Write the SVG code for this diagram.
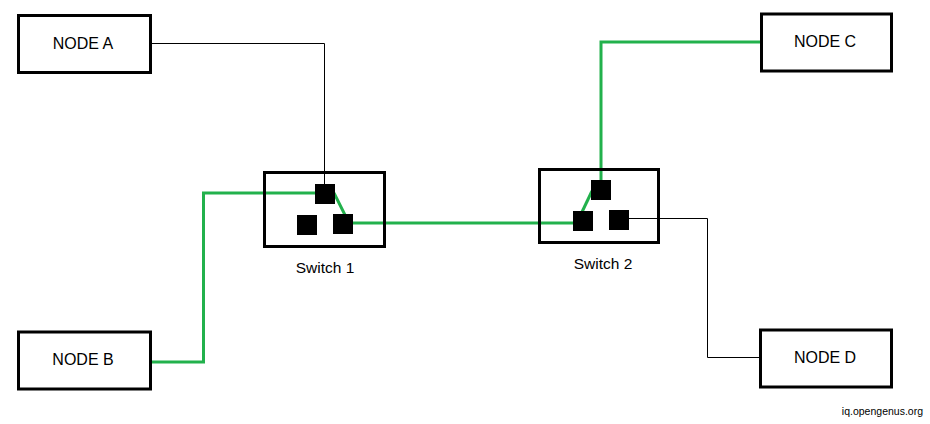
<svg xmlns="http://www.w3.org/2000/svg" width="930" height="424" viewBox="0 0 930 424">
<style>
.box{fill:#fff;stroke:#000;stroke-width:3}
.swbox{fill:none;stroke:#000;stroke-width:3}
.port{fill:#000}
.lbl{font-family:"Liberation Sans",Arial,sans-serif;font-size:16px;fill:#000;text-anchor:middle}
.sw{font-family:"Liberation Sans",Arial,sans-serif;font-size:15.5px;fill:#000;text-anchor:middle}
.g{fill:none;stroke:#22b14c;stroke-width:3}
.k{fill:none;stroke:#000;stroke-width:1}
</style>
<rect width="930" height="424" fill="#fff"/>
<g id="connectors">
<polyline class="k" points="151,43.5 324.5,43.5 324.5,184"/>
<polyline class="g" points="151,362 203.5,362 203.5,193 316,193"/>
<line class="g" x1="334" y1="193" x2="345" y2="215"/>
<line class="g" x1="352" y1="223" x2="574" y2="223"/>
<line class="g" x1="582" y1="212" x2="592" y2="191"/>
<polyline class="g" points="601,181 601,42 761,42"/>
<polyline class="k" points="628,218.5 707.5,218.5 707.5,357.5 760,357.5"/>
</g>
<g id="node-a">
<rect class="box" x="18.5" y="15.5" width="132" height="57"/>
<text class="lbl" x="83" y="49">NODE A</text>
</g>
<g id="node-b">
<rect class="box" x="18.5" y="332" width="132" height="57"/>
<text class="lbl" x="83" y="365">NODE B</text>
</g>
<g id="node-c">
<rect class="box" x="761.5" y="14" width="130" height="57"/>
<text class="lbl" x="825" y="47">NODE C</text>
</g>
<g id="node-d">
<rect class="box" x="760.5" y="330" width="131" height="57"/>
<text class="lbl" x="825" y="363">NODE D</text>
</g>
<g id="switch-1">
<rect class="swbox" x="264.5" y="172.5" width="120" height="74"/>
<rect class="port" x="315" y="184" width="20" height="20"/>
<rect class="port" x="297" y="215" width="20" height="20"/>
<rect class="port" x="333" y="214" width="20" height="20"/>
<text class="sw" x="325" y="273">Switch 1</text>
</g>
<g id="switch-2">
<rect class="swbox" x="539.5" y="169.5" width="119" height="73"/>
<rect class="port" x="591" y="180" width="20" height="20"/>
<rect class="port" x="573" y="211" width="20" height="20"/>
<rect class="port" x="609" y="210" width="20" height="20"/>
<text class="sw" x="603" y="269">Switch 2</text>
</g>
<text x="923" y="415" font-family="'Liberation Sans',Arial,sans-serif" font-size="10.5" text-anchor="end" fill="#000">iq.opengenus.org</text>
</svg>
